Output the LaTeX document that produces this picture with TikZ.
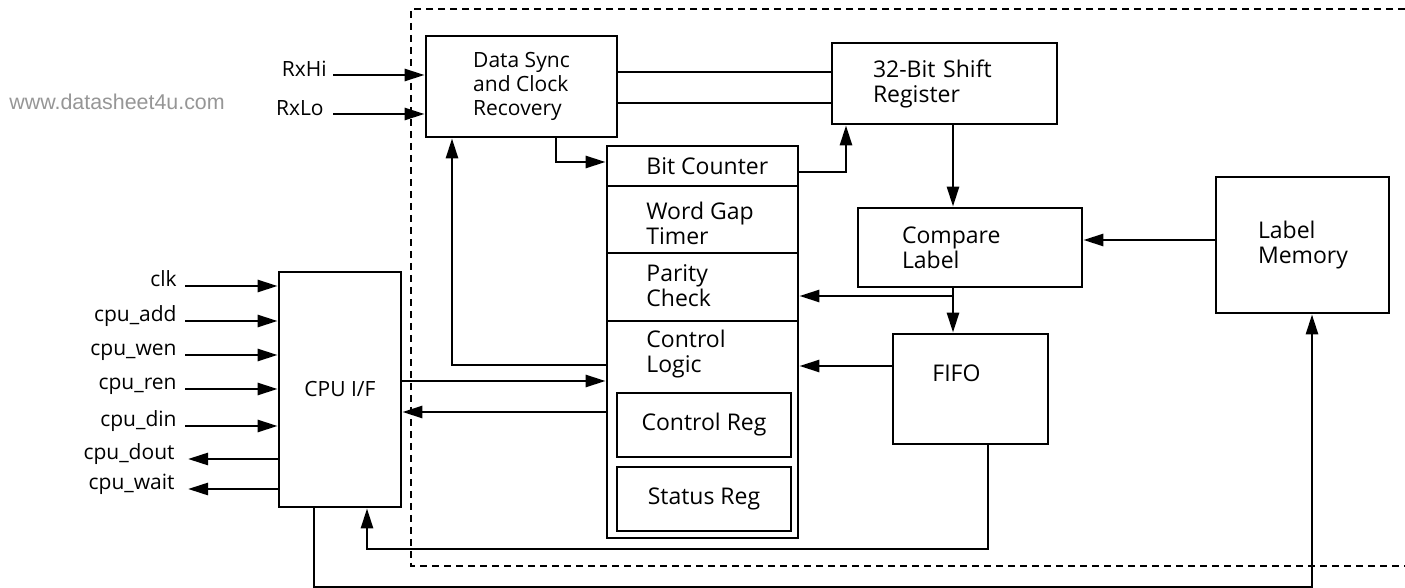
\documentclass[tikz,border=0pt]{standalone}
\usepackage{fontspec}
\setmainfont{Open Sans}
\newfontfamily\wmfont{Liberation Sans}
\usetikzlibrary{arrows.meta}
\definecolor{wmgray}{RGB}{150,150,150}

\begin{document}
\begin{tikzpicture}[x=0.5pt,y=-0.5pt,
  blk/.style={draw, line width=1.4pt, inner sep=0pt},
  ln/.style={line width=1.3pt},
  arr/.style={line width=1.3pt, -{Triangle[length=10pt,width=6pt]}},
  sig/.style={font=\fontsize{10.5}{12}\selectfont, inner sep=0pt},
  txt/.style={font=\fontsize{11.5}{12.5}\selectfont, align=left, inner sep=0pt}]
  \useasboundingbox (0,0) rectangle (1405,588);
  % chip border
  \draw[line width=0.65pt, dash pattern=on 3.5pt off 2.5pt] (1405,9) -- (411,9) -- (411,566) -- (1405,566);
  % watermark
  \node[font=\wmfont\fontsize{10.7}{12}\selectfont, text=wmgray, anchor=west, inner sep=0pt] (wm) at (9,102) {www.datasheet4u.com};
  % receiver path
  \node[blk, minimum width=95.5pt, minimum height=50.5pt, align=left, font=\fontsize{10.5}{12}\selectfont] (sync) at (521.5,86.5) {Data Sync\\and Clock\\Recovery};
  \node[blk, txt, minimum width=112.5pt, minimum height=40.5pt, text width=71.5pt] (shift) at (944.5,83.5) {32-Bit Shift\\Register};
  \node[blk, txt, minimum width=112pt, minimum height=39.5pt, text width=68pt] (compare) at (970,247.5) {Compare\\Label};
  \node[blk, txt, minimum width=86.5pt, minimum height=68pt, text width=44.5pt] (labelmem) at (1302.5,245) {Label\\Memory};
  \node[blk, minimum width=77.5pt, minimum height=55pt] (fifo) at (970.5,389) {};
  \node[txt, anchor=west] (fifotxt) at (932,373) {FIFO};
  % cpu interface
  \node[blk, minimum width=61pt, minimum height=117.5pt, font=\fontsize{10.5}{12}\selectfont] (cpu) at (340,389.5) {CPU I/F};
  % control stack
  \node[blk, minimum width=95.5pt, minimum height=20pt] (bitcnt) at (702.5,166) {};
  \node[blk, minimum width=95.5pt, minimum height=33.5pt] (wordgap) at (702.5,219.5) {};
  \node[blk, minimum width=95.5pt, minimum height=34pt] (parity) at (702.5,287) {};
  \node[blk, minimum width=95.5pt, minimum height=108.5pt] (ctrl) at (702.5,429.5) {};
  \node[blk, txt, minimum width=87pt, minimum height=32pt] (ctrlreg) at (704,425) {Control Reg};
  \node[blk, txt, minimum width=87pt, minimum height=32pt] (statreg) at (704,499) {Status Reg};
  \node[txt, anchor=west] (bitcnttxt) at (646,166) {Bit Counter};
  \node[txt, anchor=west] (wordgaptxt) at (646,223.5) {Word Gap\\Timer};
  \node[txt, anchor=west] (paritytxt) at (646,286) {Parity\\Check};
  \node[txt, anchor=west] (ctrltxt) at (646,354.5) {Control\\Logic};
  % serial inputs
  \coordinate (rxhi) at (333,75);
  \coordinate (rxlo) at (333,114);
  \node[sig, anchor=base east] (rxhilbl) at (327,77) {RxHi};
  \node[sig, anchor=base east] (rxlolbl) at (324,116) {RxLo};
  \draw[arr] (rxhi) -- (rxhi -| sync.west);
  \draw[arr] (rxlo) -- (rxlo -| sync.west);
  % cpu pins
  \foreach \nm/\yy [count=\i] in {clk/286, cpu\_add/321, cpu\_wen/355, cpu\_ren/389, cpu\_din/426} {
    \coordinate (in\i) at (185,\yy);
    \node[sig, anchor=base east] (inlbl\i) at (177,\yy+1) {\nm};
    \draw[arr] (in\i) -- (in\i -| cpu.west);
  }
  \foreach \nm/\yy [count=\i] in {cpu\_dout/459, cpu\_wait/489} {
    \coordinate (out\i) at (188,\yy);
    \node[sig, anchor=base east] (outlbl\i) at (175,\yy+1) {\nm};
    \draw[arr] (out\i -| cpu.west) -- (out\i);
  }
  % data path
  \draw[ln] (sync.east |- 0,72) -- (shift.west |- 0,72);
  \draw[ln] (sync.east |- 0,103) -- (shift.west |- 0,103);
  \draw[arr] (sync.south -| 556,0) |- (bitcnt.west |- 0,162);
  \draw[arr] (bitcnt.east |- 0,172) -| (shift.south -| 846,0);
  \draw[arr] (shift.south -| 953,0) -- (compare.north -| 953,0);
  \draw[arr] (labelmem.west |- 0,240) -- (compare.east |- 0,240);
  \draw[arr] (compare.south -| 953,0) -- (fifo.north -| 953,0);
  \coordinate (tap) at (953,296);
  \draw[arr] (tap) -- (tap -| parity.east);
  \draw[arr] (fifo.west |- 0,366) -- (ctrl.east |- 0,366);
  % feedback lines
  \draw[arr] (fifo.south -| 988,0) |- (367,549) -- (cpu.south -| 367,0);
  \draw[arr] (cpu.south -| 314,0) |- (1312,587) -- (labelmem.south -| 1312,0);
  \draw[arr] (ctrl.west |- 0,365) -| (sync.south -| 452,0);
  \draw[arr] (cpu.east |- 0,381) -- (ctrl.west |- 0,381);
  \draw[arr] (ctrl.west |- 0,412) -- (cpu.east |- 0,412);
\end{tikzpicture}
\end{document}
